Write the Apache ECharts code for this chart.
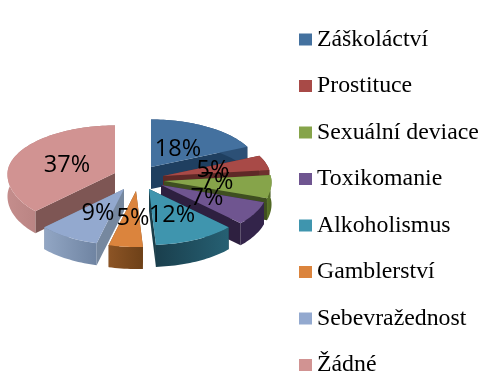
<!DOCTYPE html>
<html><head><meta charset="utf-8">
<style>html,body{margin:0;padding:0;background:#fff}#c{width:481px;height:372px}</style>
<script src="https://cdn.jsdelivr.net/npm/echarts@6/dist/echarts.min.js"></script>
</head><body><div id="c"></div>
<script>
const categories = ['Záškoláctví','Prostituce','Sexuální deviace','Toxikomanie','Alkoholismus','Gamblerství','Sebevražednost','Žádné'];
const values = [18,5,7,7,12,5,9,37];

// styles and layout, per slice
const topColors  = ['#44719f','#a84a47','#86a44a','#6f5590','#3f95ae','#db843d','#93a9cf','#d19392'];
const cutColors  = ['#1f3f60','#5f2927','#3f4f20','#2e2040','#1a3d49','#7a4a20','#76889f','#7e5654'];
const wallFrom   = ['#2c5076','#6e302e','#5a7429','#33244a','#1a3f4d','#8c5425','#92a6c4','#c48d8c'];
const wallTo     = ['#2c5076','#6e302e','#4f6524','#33244a','#266073','#6e4118','#6f84a2','#9f6d6c'];
const apexX = [151,163,164,161,149,136,124,115];
const apexY = [167,176,181,185,189,191,189,173];
const labelX = [178,213,217,207,172,133,98,67];
const labelY = [149,170,182,198,215,218,213,165];
const drawOrder = [0,1,2,3,7,6,5,4];
const DEPTH = 22, RX_BACK = 105, RX_FRONT = 110, RY_BACK = 47.5, RY_FRONT = 56;

const total = values.reduce((a,b)=>a+b,0);
const starts = []; let acc = 0;
values.forEach(v=>{ starts.push(acc); acc += v; });
const rad = share => share/total*Math.PI*2;

function edge(i, th, dy){
  const c = Math.cos(th), s = Math.sin(th);
  const rx = RX_BACK + (RX_FRONT-RX_BACK)*(1-c)/2;
  const ry = c >= 0 ? RY_BACK : RY_FRONT;
  return [apexX[i]+rx*s, apexY[i]-ry*c+dy];
}
function arc(i, a, b, dy){
  const n = Math.max(2, Math.ceil((b-a)/0.03)), p = [];
  for(let k=0;k<=n;k++) p.push(edge(i, a+(b-a)*k/n, dy));
  return p;
}
function sliceItem(i){
  return function(params, api){
    const v = api.value(0);
    const a = rad(starts[i]), b = a + rad(v);
    const ax = apexX[i], ay = apexY[i];
    const wall = th => { const e0 = edge(i,th,0), e1 = edge(i,th,DEPTH);
      return {type:'polygon', shape:{points:[[ax,ay],e0,e1,[ax,ay+DEPTH]]}, style:{fill:cutColors[i]}}; };
    const top = arc(i,a,b,0), low = arc(i,a,b,DEPTH).reverse();
    return {type:'group', children:[
      wall(a), wall(b),
      {type:'polygon', shape:{points:top.concat(low)}, style:{fill:new echarts.graphic.LinearGradient(0,0,1,0,[{offset:0,color:wallFrom[i]},{offset:1,color:wallTo[i]}])}},
      {type:'polygon', shape:{points:[[ax,ay]].concat(top)}, style:{fill:topColors[i]}}
    ]};
  };
}
const series = drawOrder.map(i=>({
  type:'custom', name:categories[i], coordinateSystem:'none', silent:true,
  itemStyle:{color:topColors[i]}, renderItem:sliceItem(i),
  data:[[values[i]]]
}));
series.push({
  type:'custom', name:'labels', coordinateSystem:'none', silent:true,
  renderItem:(params,api)=>({type:'text', x:labelX[params.dataIndex], y:labelY[params.dataIndex],
    style:{text:api.value(0)+'%', fill:'#000', font:'23.5px "Open Sans", sans-serif', align:'center', verticalAlign:'middle'}}),
  data:values.map(v=>[v])
});

const chart = echarts.init(document.getElementById('c'), null, {renderer:'canvas'});
chart.setOption({
  animation:false, backgroundColor:'#fff',
  legend:{orient:'vertical', left:299, top:27.5, height:372, width:182, padding:0, icon:'rect', itemWidth:13, itemHeight:12, itemGap:22.5,
    data:categories, selectedMode:false,
    textStyle:{fontFamily:'"Liberation Serif", serif', fontSize:23.8, color:'#000', padding:0, lineHeight:23}},
  series:series
});
</script></body></html>
